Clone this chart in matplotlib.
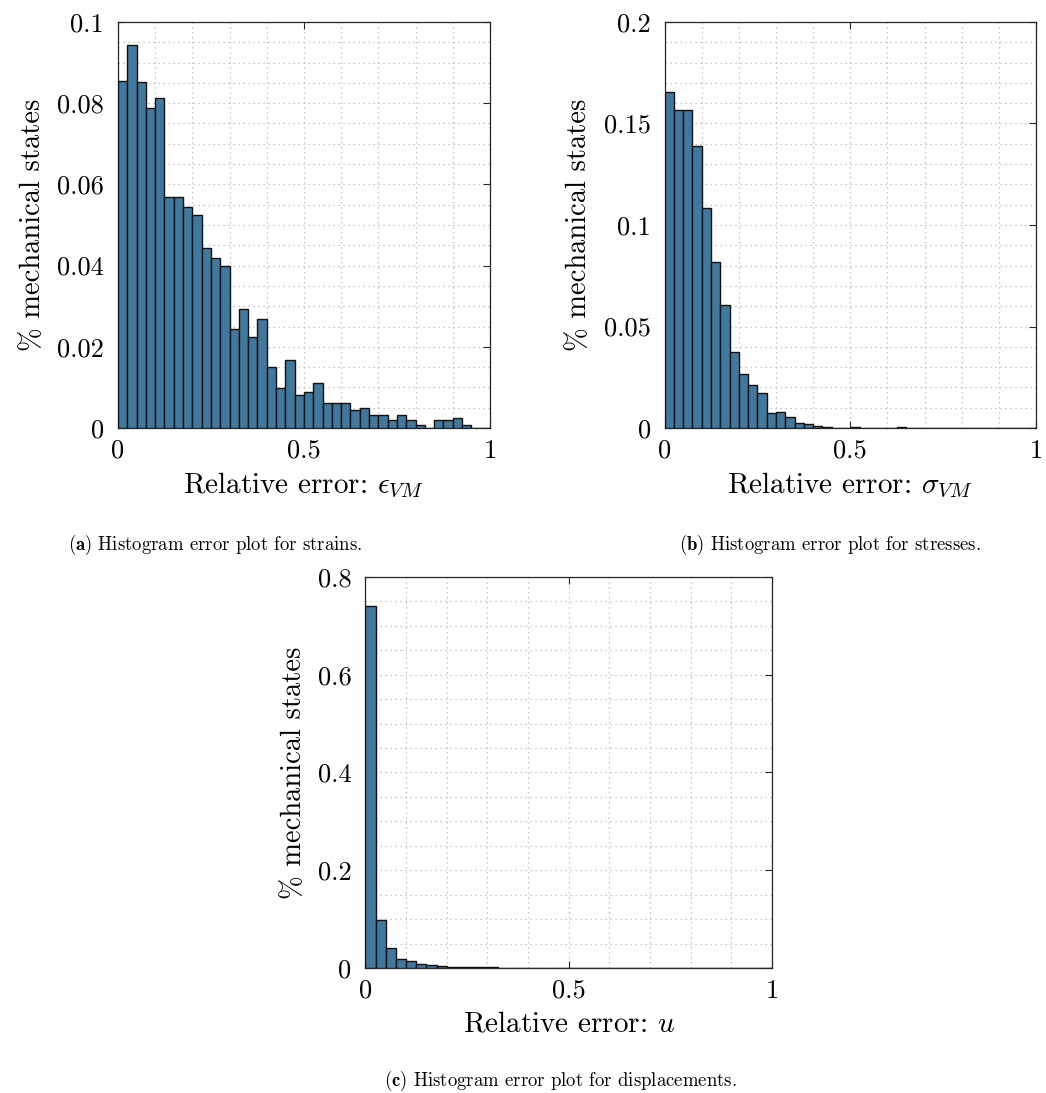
import numpy as np
import matplotlib
matplotlib.use("Agg")
import matplotlib.pyplot as plt
from matplotlib.ticker import MultipleLocator, FuncFormatter

plt.rcParams['font.family'] = ['cmr10', 'DejaVu Serif']
plt.rcParams['mathtext.fontset'] = 'cm'
plt.rcParams['axes.unicode_minus'] = False

# 40 bins on [0, 1], values = fraction of mechanical states per bin
strain_err = [0.0855, 0.0944, 0.0851, 0.0787, 0.0812, 0.0568, 0.0568, 0.0544, 0.0525, 0.0443,
              0.0419, 0.0400, 0.0244, 0.0293, 0.0225, 0.0268, 0.0150, 0.0099, 0.0168, 0.0081,
              0.0088, 0.0112, 0.0062, 0.0062, 0.0062, 0.0044, 0.0050, 0.0031, 0.0031, 0.0019,
              0.0031, 0.0019, 0.0007, 0.0, 0.0019, 0.0019, 0.0025, 0.0007, 0.0, 0.0]
stress_err = [0.1654, 0.1568, 0.1568, 0.1388, 0.1082, 0.0819, 0.0604, 0.0374, 0.0268, 0.0212,
              0.0174, 0.0076, 0.0080, 0.0056, 0.0026, 0.0018, 0.0011, 0.0003, 0.0002, 0.0002,
              0.0005, 0.0001, 0.0001, 0.0001, 0.0001, 0.0006, 0.0001, 0.0, 0.0, 0.0,
              0.0, 0.0, 0.0, 0.0, 0.0, 0.0, 0.0, 0.0, 0.0, 0.0]
disp_err = [0.7407, 0.0982, 0.0403, 0.0191, 0.0136, 0.0075, 0.0055, 0.0035, 0.0025, 0.0016,
            0.0014, 0.0012, 0.0010, 0.0009, 0.0008, 0.0007, 0.0007, 0.0006, 0.0006, 0.0005,
            0.0005, 0.0005, 0.0004, 0.0004, 0.0004, 0.0004, 0.0003, 0.0003, 0.0003, 0.0003,
            0.0003, 0.0003, 0.0003, 0.0003, 0.0003, 0.0003, 0.0003, 0.0003, 0.0003, 0.0003]

edges = np.linspace(0, 1, 41)
bar_color = '#41799E'


def fmt(v, pos):
    return '{:g}'.format(round(v, 6))


def draw_hist(ax, heights, ymax, ymajor, yminor, xlabel):
    ax.bar(edges[:-1], heights, width=np.diff(edges), align='edge',
           color=bar_color, edgecolor='#111111', linewidth=1.0, zorder=3)
    ax.set_xlim(0, 1)
    ax.set_ylim(0, ymax)
    ax.xaxis.set_major_locator(MultipleLocator(0.5))
    ax.xaxis.set_minor_locator(MultipleLocator(0.1))
    ax.yaxis.set_major_locator(MultipleLocator(ymajor))
    ax.yaxis.set_minor_locator(MultipleLocator(yminor))
    ax.xaxis.set_major_formatter(FuncFormatter(fmt))
    ax.yaxis.set_major_formatter(FuncFormatter(fmt))
    ax.grid(True, which='both', linestyle=(0, (1, 3)), color='#b5b5b5', linewidth=0.9, zorder=0)
    ax.set_axisbelow(True)
    ax.tick_params(which='major', direction='in', length=5, width=0.8, top=True, right=True,
                   labelsize=19, color='#262626')
    ax.tick_params(axis='y', which='major', pad=10)
    ax.tick_params(axis='x', which='major', pad=8)
    ax.tick_params(which='minor', length=0)
    for s in ax.spines.values():
        s.set_color('#262626')
        s.set_linewidth(0.9)
    ax.set_xlabel(xlabel, fontsize=21, labelpad=6)
    ax.set_ylabel('% mechanical states', fontsize=20.5, labelpad=8)


fig = plt.figure(figsize=(10.46, 10.93), dpi=100)
ax_a = fig.add_axes([0.1128, 0.6084, 0.3556, 0.3715])
ax_b = fig.add_axes([0.6353, 0.6084, 0.3552, 0.3715])
ax_c = fig.add_axes([0.3494, 0.1144, 0.3886, 0.3577])

draw_hist(ax_a, strain_err, 0.1, 0.02, 0.005, r'Relative error: $\epsilon_{VM}$')
draw_hist(ax_b, stress_err, 0.2, 0.05, 0.01, r'Relative error: $\sigma_{VM}$')
draw_hist(ax_c, disp_err, 0.8, 0.2, 0.05, r'Relative error: $u$')

fig.text(215 / 1046, 1 - 545 / 1093, r'$\mathbf{(a)}$ Histogram error plot for strains.',
         ha='center', va='center', fontsize=13.5)
fig.text(830 / 1046, 1 - 545 / 1093, r'$\mathbf{(b)}$ Histogram error plot for stresses.',
         ha='center', va='center', fontsize=13.5)
fig.text(560 / 1046, 1 - 1081 / 1093, r'$\mathbf{(c)}$ Histogram error plot for displacements.',
         ha='center', va='center', fontsize=13.5)

fig.savefig('out.png', dpi=100)
